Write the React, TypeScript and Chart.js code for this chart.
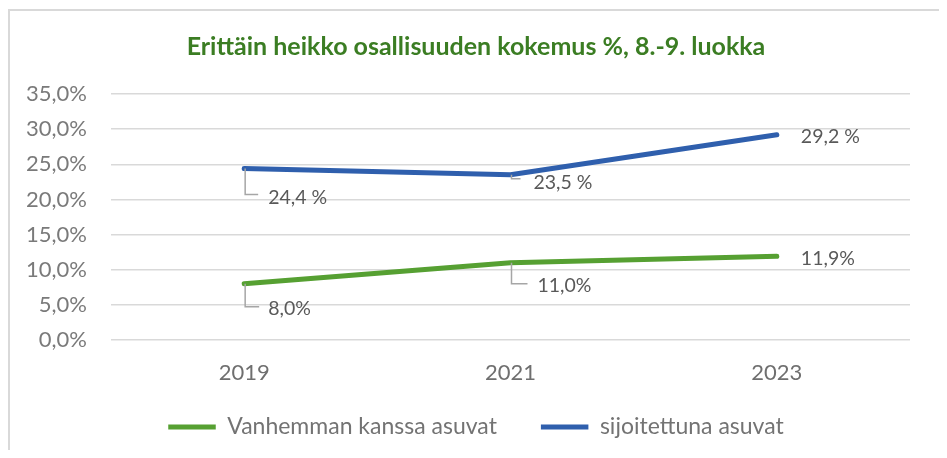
import React, { useEffect, useRef } from "react";
import { Chart, registerables } from "chart.js";

Chart.register(...registerables);

const TITLE = "Erittäin heikko osallisuuden kokemus %, 8.-9. luokka";
const YEARS = ["2019", "2021", "2023"];
const SERIES_NAMES = ["Vanhemman kanssa asuvat", "sijoitettuna asuvat"];
const PARENTS = [8.0, 11.0, 11.9];
const PLACED = [24.4, 23.5, 29.2];
const PARENTS_LABELS = ["8,0%", "11,0%", "11,9%"];
const PLACED_LABELS = ["24,4 %", "23,5 %", "29,2 %"];
const Y_MIN = 0;
const Y_MAX = 35;
const Y_STEP = 5;

const GREEN = "#56A032";
const BLUE = "#2F5FAD";
const FONT = "Lato, 'Open Sans', sans-serif";

// label placement: [dx, dy, leaderDownTo, leaderRightTo] relative to point (null => no leader)
const LABEL_PLACEMENT: Record<number, Array<[number, number, number | null, number | null]>> = {
  0: [
    [24, 25, 23, 15],
    [27, 23, 21, 17],
    [24, 2, null, null],
  ],
  1: [
    [24, 29, 26, 14],
    [23, 8, 4, 10],
    [24, 2, null, null],
  ],
};

const labelPlugin = {
  id: "callouts",
  afterDatasetsDraw(chart: any) {
    const ctx = chart.ctx;
    ctx.save();
    chart.data.datasets.forEach((ds: any, di: number) => {
      const meta = chart.getDatasetMeta(di);
      meta.data.forEach((pt: any, i: number) => {
        const [dx, dy, down, right] = LABEL_PLACEMENT[di][i];
        const x = pt.x;
        const y = pt.y;
        if (down !== null && right !== null) {
          ctx.strokeStyle = "#a6a6a6";
          ctx.lineWidth = 1.5;
          ctx.beginPath();
          ctx.moveTo(x + 1, y);
          ctx.lineTo(x + 1, y + down);
          ctx.lineTo(x + right, y + down);
          ctx.stroke();
        }
        ctx.fillStyle = "#595959";
        ctx.font = `19.5px ${FONT}`;
        ctx.textAlign = "left";
        ctx.textBaseline = "middle";
        ctx.fillText(ds.labels[i], x + dx, y + dy);
      });
    });
    ctx.restore();
  },
};

// center title and legend over the framed area rather than the canvas minus right padding
const boxShiftPlugin = {
  id: "boxShift",
  afterLayout(chart: any) {
    if (chart.titleBlock) {
      chart.titleBlock.left = 42;
    }
    if (chart.legend) {
      chart.legend.left = 42;
      chart.legend.top = 371.5;
      chart.legend.bottom = 458;
    }
  },
};

export default function App() {
  const ref = useRef<HTMLCanvasElement>(null);
  useEffect(() => {
    if (!ref.current) return;
    const chart = new Chart(ref.current, {
      type: "line",
      data: {
        labels: YEARS,
        datasets: [
          {
            label: SERIES_NAMES[0],
            data: PARENTS,
            labels: PARENTS_LABELS,
            borderColor: GREEN,
            backgroundColor: GREEN,
            borderWidth: 5,
            borderCapStyle: "round",
            borderJoinStyle: "round",
            pointRadius: 0,
            tension: 0,
          } as any,
          {
            label: SERIES_NAMES[1],
            data: PLACED,
            labels: PLACED_LABELS,
            borderColor: BLUE,
            backgroundColor: BLUE,
            borderWidth: 5,
            borderCapStyle: "round",
            borderJoinStyle: "round",
            pointRadius: 0,
            tension: 0,
          } as any,
        ],
      },
      options: {
        animation: false,
        responsive: false,
        maintainAspectRatio: false,
        layout: { padding: { left: 0, right: 37, top: 0, bottom: 9.5 } },
        plugins: {
          title: {
            display: true,
            text: TITLE,
            color: "#3B7D23",
            font: { family: FONT, size: 25, weight: "bold" },
            padding: { top: 32, bottom: 32 },
          },
          legend: {
            display: true,
            position: "bottom",
            maxHeight: 40,
            labels: {
              usePointStyle: true,
              pointStyle: "line",
              pointStyleWidth: 47.5,
              color: "#737373",
              font: { family: FONT, size: 23 },
              padding: 44,
            },
          },
          tooltip: { enabled: false },
        },
        scales: {
          x: {
            offset: true,
            grid: { display: false },
            border: { display: false },
            ticks: { color: "#6f6f6f", font: { family: FONT, size: 22 }, padding: 12 },
            afterFit: (s: any) => {
              s.height = 68.5;
            },
          },
          y: {
            min: Y_MIN,
            max: Y_MAX,
            ticks: {
              stepSize: Y_STEP,
              color: "#7a7a7a",
              font: { family: FONT, size: 22 },
              padding: 24,
              callback: (v: any) => Number(v).toFixed(1).replace(".", ",") + "%",
            },
            grid: { color: "#d9d9d9", lineWidth: 1.5, drawTicks: false },
            border: { display: false },
            afterFit: (s: any) => {
              s.width = 111;
            },
          },
        },
      } as any,
      plugins: [labelPlugin, boxShiftPlugin],
    });
    return () => chart.destroy();
  }, []);
  return (
    <div style={{ position: "relative", width: 947, height: 458, margin: -8, overflow: "hidden", background: "#fff" }}>
      <canvas ref={ref} width={947} height={458} style={{ position: "absolute", left: 0, top: 0 }} />
      <div
        style={{
          position: "absolute",
          left: 8,
          top: 9,
          width: 930,
          height: 449,
          borderTop: "2px solid #d9d9d9",
          borderLeft: "2px solid #d9d9d9",
          borderRight: "2px solid #d9d9d9",
          pointerEvents: "none",
        }}
      />
    </div>
  );
}
